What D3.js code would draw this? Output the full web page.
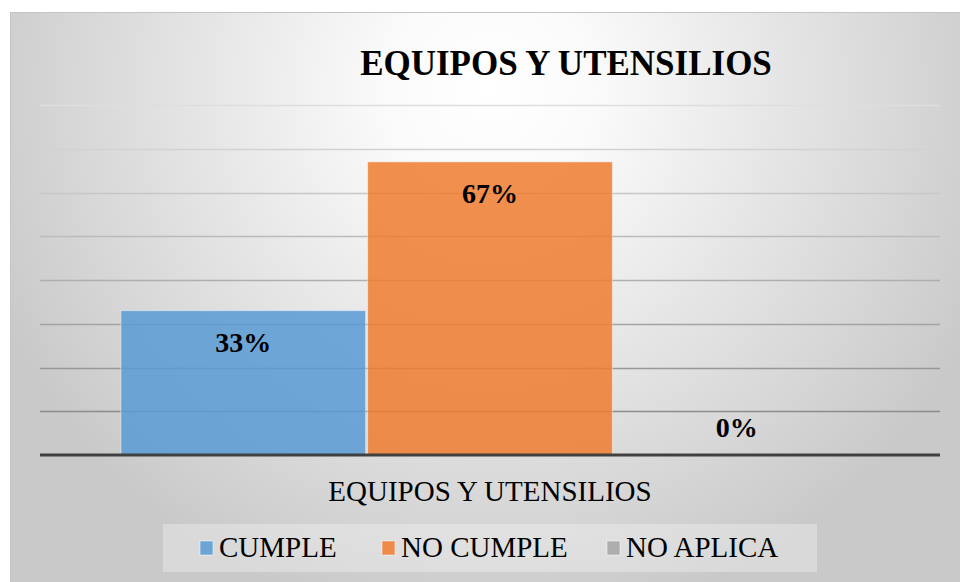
<!DOCTYPE html>
<html><head><meta charset="utf-8">
<script src="https://cdn.jsdelivr.net/npm/d3@7"></script>
<style>html,body{margin:0;padding:0;background:#fff;}svg{display:block;}</style>
</head><body>
<svg id="c" width="960" height="582"></svg>
<script>
const title = "EQUIPOS Y UTENSILIOS";
const categories = ["EQUIPOS Y UTENSILIOS"];
const seriesNames = ["CUMPLE", "NO CUMPLE", "NO APLICA"];
const seriesValues = [0.33, 0.67, 0.00];
const seriesColors = ["#5B9BD5", "#ED7D31", "#A5A5A5"];
const gridTicks = [0.1, 0.2, 0.3, 0.4, 0.5, 0.6, 0.7, 0.8];

const serif = "'Liberation Serif','Times New Roman',Times,serif";
const svg = d3.select("#c");
const defs = svg.append("defs");
const rg = defs.append("radialGradient").attr("id","bg")
  .attr("gradientUnits","userSpaceOnUse").attr("cx",490).attr("cy",90).attr("r",540);
rg.append("stop").attr("offset",0).attr("stop-color","#ffffff");
rg.append("stop").attr("offset",0.2).attr("stop-color","#fafafa");
rg.append("stop").attr("offset",1).attr("stop-color","#c9c9c9");

svg.append("rect").attr("x",10.5).attr("y",12.5).attr("width",960).attr("height",580)
  .attr("fill","url(#bg)").attr("stroke","#c4c4c4").attr("stroke-width",1);

const plotL = 40, plotR = 940, plotT = 105, plotB = 455;
const y = d3.scaleLinear().domain([0, 0.8]).range([plotB, plotT]);
const x0 = d3.scaleBand().domain(categories).range([plotL, plotR]).paddingInner(0).paddingOuter(0.108);
const x1 = d3.scaleBand().domain(seriesNames).range([0, x0.bandwidth()]).padding(0);

const gridColor = d3.scaleLinear().domain([0.1, 0.8]).range(["#8c8c8c", "#dedede"]);
svg.append("g").selectAll("line").data(gridTicks).join("line")
  .attr("x1", plotL).attr("x2", plotR)
  .attr("y1", d => Math.round(y(d)) + 0.5).attr("y2", d => Math.round(y(d)) + 0.5)
  .attr("stroke", d => gridColor(d)).attr("stroke-width", 1.3);

const data = seriesNames.map((s, i) => ({ cat: categories[0], s, v: seriesValues[i], c: seriesColors[i] }));
const g = svg.append("g");
g.selectAll("rect").data(data).join("rect")
  .attr("x", d => x0(d.cat) + x1(d.s) + 1)
  .attr("width", x1.bandwidth() - 2)
  .attr("y", d => y(d.v))
  .attr("height", d => y(0) - y(d.v))
  .attr("fill", d => d.c).attr("fill-opacity", 0.86)
  .attr("stroke", "rgba(255,255,255,0.45)").attr("stroke-width", 1);

g.selectAll("text").data(data).join("text")
  .attr("x", d => x0(d.cat) + x1(d.s) + x1.bandwidth() / 2)
  .attr("y", d => d.v > 0 ? y(d.v) + 41 : y(0) - 18)
  .attr("text-anchor", "middle")
  .style("font-family", serif)
  .attr("font-weight", "bold").attr("font-size", 28).attr("fill", "#000")
  .text(d => d3.format(".0%")(d.v));

// axis
const xAxis = d3.axisBottom(x0).tickSize(0).tickPadding(22);
const ax = svg.append("g").attr("transform", `translate(0,${plotB})`).call(xAxis);
ax.attr("font-family", null).attr("font-size", null);
ax.select(".domain").attr("stroke", "#404040").attr("stroke-width", 3).attr("d", `M${plotL},0H${plotR}`);
ax.selectAll("text").style("font-family", serif)
  .attr("font-size", 29).attr("fill", "#000").attr("dy", "0.71em").attr("y", 25);

// title
svg.append("text").attr("x", 566).attr("y", 75).attr("text-anchor", "middle")
  .style("font-family", serif)
  .attr("font-weight", "bold").attr("font-size", 35).attr("fill", "#000").text(title);

// legend
const lg = svg.append("g");
lg.append("rect").attr("x", 163).attr("y", 524).attr("width", 654).attr("height", 48)
  .attr("fill", "rgba(255,255,255,0.3)");
const legX = [200, 382, 607];
const items = lg.selectAll("g.item").data(data).join("g").attr("class", "item")
  .attr("transform", (d, i) => `translate(${legX[i]},0)`);
items.append("rect").attr("x", 0).attr("y", 541).attr("width", 13).attr("height", 14)
  .attr("fill", d => d.c).attr("fill-opacity", 0.86).attr("stroke", "rgba(255,255,255,0.5)");
items.append("text").attr("x", 19).attr("y", 557)
  .style("font-family", serif)
  .attr("font-size", 29).attr("fill", "#000").text(d => d.s);
</script>
</body></html>
